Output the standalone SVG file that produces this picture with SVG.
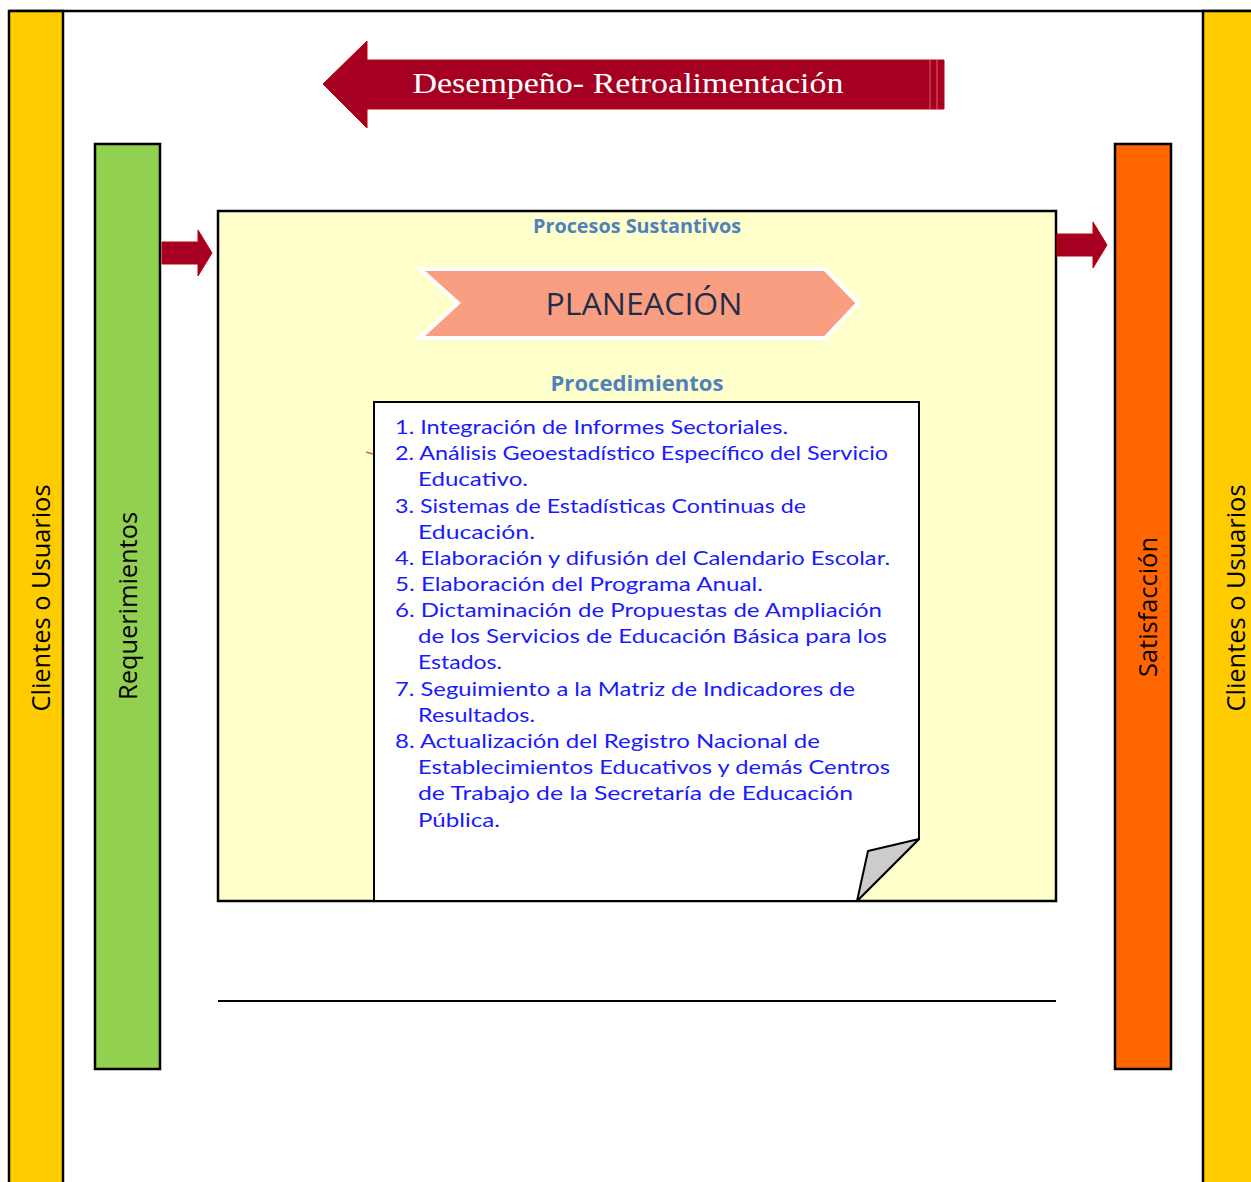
<svg xmlns="http://www.w3.org/2000/svg" width="1251" height="1182" viewBox="0 0 1251 1182">
<defs>
<style>
.bar{stroke:#000;stroke-width:2.5}
.side{font-family:"Open Sans","Noto Sans",sans-serif;font-size:25px;fill:#000}
.item{font-family:"Lato","Liberation Sans",sans-serif;font-size:20px;fill:#1a1aff}
.hdr{font-family:"Open Sans","Noto Sans",sans-serif;font-weight:bold;fill:#4F81BD}
.red{fill:#A50021;stroke:#C00000;stroke-width:1}
</style>
</defs>
<rect x="0" y="0" width="1251" height="1182" fill="#fff"/>
<g id="frame">
<line x1="9" y1="11" x2="1251" y2="11" stroke="#000" stroke-width="2.5"/>
</g>
<g id="clientes-izq">
<rect class="bar" x="9" y="11" width="54" height="1180" fill="#FFCC00"/>
<text class="side" transform="translate(50,598) rotate(-90)" text-anchor="middle" textLength="227" lengthAdjust="spacingAndGlyphs">Clientes o Usuarios</text>
</g>
<g id="clientes-der">
<rect class="bar" x="1203" y="11" width="60" height="1180" fill="#FFCC00"/>
<text class="side" transform="translate(1245,598) rotate(-90)" text-anchor="middle" textLength="227" lengthAdjust="spacingAndGlyphs">Clientes o Usuarios</text>
</g>
<g id="requerimientos">
<rect class="bar" x="95" y="144" width="65" height="925" fill="#92D050"/>
<text class="side" transform="translate(137,606) rotate(-90)" text-anchor="middle" textLength="188" lengthAdjust="spacingAndGlyphs">Requerimientos</text>
</g>
<g id="satisfaccion">
<rect class="bar" x="1115" y="144" width="56" height="925" fill="#FF6600"/>
<text class="side" transform="translate(1157,607) rotate(-90)" text-anchor="middle" textLength="140" lengthAdjust="spacingAndGlyphs">Satisfacción</text>
</g>
<g id="retroalimentacion">
<path class="red" d="M323,84 L367,41 L367,60 L944,60 L944,109 L367,109 L367,128 Z"/>
<line x1="930" y1="60" x2="930" y2="109" stroke="#E06060" stroke-width="1"/>
<line x1="937" y1="60" x2="937" y2="109" stroke="#E06060" stroke-width="1"/>
<text x="628" y="93" text-anchor="middle" font-family="'Liberation Serif','DejaVu Serif',serif" font-size="30" fill="#fff" textLength="431" lengthAdjust="spacingAndGlyphs">Desempeño- Retroalimentación</text>
</g>
<g id="procesos">
<rect x="218" y="211" width="838" height="690" fill="#FFFFCC" stroke="#000" stroke-width="2.5"/>
<text class="hdr" x="637" y="233" text-anchor="middle" font-size="20" textLength="208" lengthAdjust="spacingAndGlyphs">Procesos Sustantivos</text>
<text class="hdr" x="637" y="391" text-anchor="middle" font-size="22" textLength="173" lengthAdjust="spacingAndGlyphs">Procedimientos</text>
<line x1="218" y1="1001" x2="1056" y2="1001" stroke="#000" stroke-width="2"/>
</g>
<g id="planeacion">
<path d="M420,269 L825,269 L858,303 L825,338 L420,338 L458,303 Z" fill="#FA9E82" stroke="#fff" stroke-width="4" stroke-linejoin="miter"/>
<text x="644" y="315" text-anchor="middle" font-family="'Open Sans','Noto Sans',sans-serif" font-size="31" fill="#1F2D4D" textLength="197" lengthAdjust="spacingAndGlyphs">PLANEACIÓN</text>
</g>
<g id="procedimientos">
<path d="M374,402 L919,402 L919,839 L857,901 L374,901 Z" fill="#fff" stroke="#000" stroke-width="2"/>
<path d="M919,839 L868,851 L857,901 Z" fill="#CCCCCC" stroke="#000" stroke-width="2" stroke-linejoin="round"/>
<line x1="366" y1="452" x2="373" y2="454" stroke="#E06060" stroke-width="1.5"/>
<text class="item" x="395" y="434" textLength="393" lengthAdjust="spacingAndGlyphs">1. Integración de Informes Sectoriales.</text>
<text class="item" x="395" y="460" textLength="493" lengthAdjust="spacingAndGlyphs">2. Análisis Geoestadístico Específico del Servicio</text>
<text class="item" x="418" y="486" textLength="110" lengthAdjust="spacingAndGlyphs">Educativo.</text>
<text class="item" x="395" y="513" textLength="411" lengthAdjust="spacingAndGlyphs">3. Sistemas de Estadísticas Continuas de</text>
<text class="item" x="418" y="539" textLength="117" lengthAdjust="spacingAndGlyphs">Educación.</text>
<text class="item" x="395" y="565" textLength="495" lengthAdjust="spacingAndGlyphs">4. Elaboración y difusión del Calendario Escolar.</text>
<text class="item" x="395" y="591" textLength="368" lengthAdjust="spacingAndGlyphs">5. Elaboración del Programa Anual.</text>
<text class="item" x="395" y="617" textLength="487" lengthAdjust="spacingAndGlyphs">6. Dictaminación de Propuestas de Ampliación</text>
<text class="item" x="418" y="643" textLength="469" lengthAdjust="spacingAndGlyphs">de los Servicios de Educación Básica para los</text>
<text class="item" x="418" y="669" textLength="84" lengthAdjust="spacingAndGlyphs">Estados.</text>
<text class="item" x="395" y="696" textLength="460" lengthAdjust="spacingAndGlyphs">7. Seguimiento a la Matriz de Indicadores de</text>
<text class="item" x="418" y="722" textLength="117" lengthAdjust="spacingAndGlyphs">Resultados.</text>
<text class="item" x="395" y="748" textLength="425" lengthAdjust="spacingAndGlyphs">8. Actualización del Registro Nacional de</text>
<text class="item" x="418" y="774" textLength="472" lengthAdjust="spacingAndGlyphs">Establecimientos Educativos y demás Centros</text>
<text class="item" x="418" y="800" textLength="435" lengthAdjust="spacingAndGlyphs">de Trabajo de la Secretaría de Educación</text>
<text class="item" x="418" y="827" textLength="82" lengthAdjust="spacingAndGlyphs">Pública.</text>
</g>
<g id="connectors">
<path class="red" d="M162,242 L198,242 L198,230 L212,253 L198,276 L198,264 L162,264 Z"/>
<path class="red" d="M1057,234 L1093,234 L1093,222 L1107,245 L1093,268 L1093,256 L1057,256 Z"/>
</g>
</svg>
